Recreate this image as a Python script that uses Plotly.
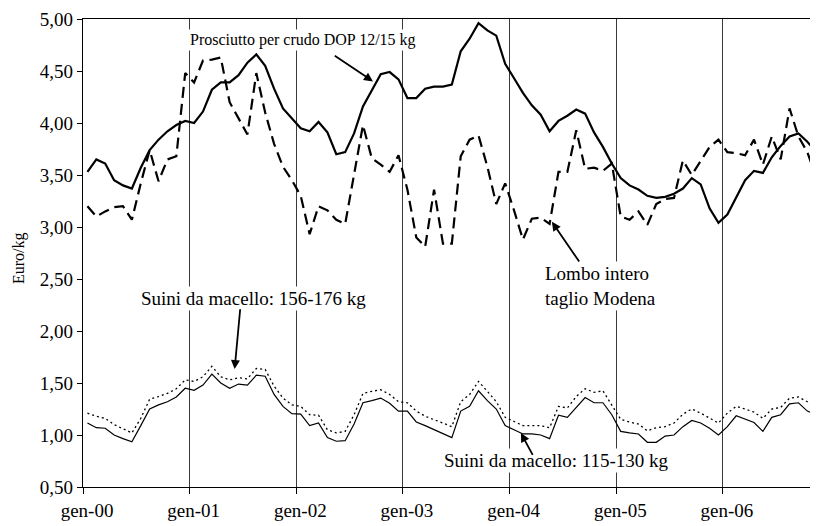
import numpy as np
import plotly.graph_objects as go

# month index 0 = gen-00 ... 82 = nov-06
prosciutto = [3.53, 3.65, 3.61, 3.45, 3.40, 3.37, 3.57, 3.74, 3.84, 3.92, 3.98, 4.02,
              4.00, 4.11, 4.32, 4.39, 4.39, 4.46, 4.58, 4.66, 4.55, 4.33, 4.14, 4.05,
              3.95, 3.92, 4.01, 3.91, 3.70, 3.72, 3.90, 4.16, 4.32, 4.47, 4.49, 4.42,
              4.24, 4.24, 4.33, 4.35, 4.35, 4.37, 4.69, 4.81, 4.96, 4.89, 4.84, 4.57,
              4.43, 4.29, 4.17, 4.08, 3.92, 4.02, 4.07, 4.13, 4.09, 3.91, 3.77, 3.61,
              3.47, 3.40, 3.36, 3.30, 3.28, 3.29, 3.32, 3.37, 3.47, 3.41, 3.18, 3.04,
              3.12, 3.28, 3.45, 3.54, 3.52, 3.67, 3.78, 3.87, 3.90, 3.82, 3.72]

lombo = [3.20, 3.10, 3.15, 3.19, 3.20, 3.07, 3.42, 3.74, 3.44, 3.65, 3.68, 4.48,
         4.39, 4.60, 4.61, 4.63, 4.20, 4.05, 3.89, 4.48, 4.10, 3.80, 3.58, 3.45,
         3.30, 2.93, 3.20, 3.16, 3.07, 3.03, 3.50, 3.98, 3.66, 3.60, 3.53, 3.69,
         3.36, 2.90, 2.81, 3.36, 2.84, 2.84, 3.68, 3.84, 3.88, 3.58, 3.22, 3.42,
         3.16, 2.88, 3.08, 3.09, 3.03, 3.53, 3.53, 3.93, 3.56, 3.57, 3.54, 3.61,
         3.10, 3.07, 3.15, 3.02, 3.22, 3.27, 3.28, 3.64, 3.50, 3.63, 3.77, 3.84,
         3.72, 3.71, 3.69, 3.84, 3.60, 3.87, 3.65, 4.14, 3.87, 3.72, 3.48]

suini_156_176 = [1.21, 1.18, 1.16, 1.10, 1.06, 1.02, 1.16, 1.345, 1.37, 1.40, 1.445, 1.53,
                 1.515, 1.56, 1.66, 1.56, 1.53, 1.55, 1.54, 1.64, 1.63, 1.47, 1.355, 1.29,
                 1.275, 1.195, 1.19, 1.05, 1.02, 1.035, 1.195, 1.40, 1.42, 1.435, 1.39, 1.32,
                 1.31, 1.23, 1.18, 1.15, 1.115, 1.08, 1.32, 1.39, 1.515, 1.42, 1.32, 1.17,
                 1.13, 1.09, 1.09, 1.09, 1.07, 1.275, 1.26, 1.37, 1.445, 1.41, 1.425, 1.29,
                 1.15, 1.125, 1.105, 1.04, 1.07, 1.08, 1.115, 1.20, 1.25, 1.21, 1.16, 1.115,
                 1.21, 1.275, 1.25, 1.22, 1.16, 1.25, 1.265, 1.355, 1.365, 1.32, 1.26]

suini_115_130 = [1.115, 1.07, 1.065, 1.00, 0.965, 0.935, 1.09, 1.25, 1.29, 1.32, 1.365, 1.45,
                 1.43, 1.48, 1.585, 1.50, 1.45, 1.49, 1.48, 1.575, 1.565, 1.39, 1.275, 1.205,
                 1.20, 1.09, 1.115, 0.975, 0.94, 0.945, 1.105, 1.31, 1.33, 1.355, 1.305, 1.23,
                 1.23, 1.125, 1.09, 1.05, 1.01, 0.975, 1.23, 1.275, 1.425, 1.33, 1.25, 1.09,
                 1.05, 1.01, 1.01, 1.00, 0.965, 1.19, 1.17, 1.265, 1.36, 1.31, 1.31, 1.195,
                 1.035, 1.02, 1.01, 0.93, 0.93, 0.99, 1.00, 1.08, 1.14, 1.115, 1.065, 1.00,
                 1.08, 1.185, 1.155, 1.12, 1.035, 1.17, 1.195, 1.30, 1.31, 1.23, 1.195]

year_labels = ["gen-00", "gen-01", "gen-02", "gen-03", "gen-04", "gen-05", "gen-06"]

x = np.arange(len(prosciutto))
FONT = "Liberation Serif, Times New Roman, serif"

fig = go.Figure()
fig.add_trace(go.Scatter(x=x, y=suini_156_176, mode="lines",
                         line=dict(color="black", width=1.3, dash="2px,3px"), name="Suini 156-176"))
fig.add_trace(go.Scatter(x=x, y=suini_115_130, mode="lines",
                         line=dict(color="black", width=1.2), name="Suini 115-130"))
fig.add_trace(go.Scatter(x=x, y=lombo, mode="lines",
                         line=dict(color="black", width=2.2, dash="11px,6px"), name="Lombo"))
fig.add_trace(go.Scatter(x=x, y=prosciutto, mode="lines",
                         line=dict(color="black", width=2.2), name="Prosciutto"))

tickpos = [12 * i - 0.5 for i in range(len(year_labels))]

fig.update_xaxes(range=[-0.5, 82.2], tickmode="array", tickvals=tickpos, ticktext=year_labels,
                 ticks="outside", ticklen=6, tickcolor="black", ticklabelshift=4,
                 showline=True, linecolor="black", linewidth=1.2, mirror=True,
                 showgrid=True, gridcolor="#3a3a3a", gridwidth=1, zeroline=False,
                 tickfont=dict(family=FONT, size=19, color="black"))
fig.update_yaxes(range=[0.5, 5.0], dtick=0.5, tick0=0.5, tickformat=".2f",
                 ticks="outside", ticklen=5, tickcolor="black",
                 showline=True, linecolor="black", linewidth=1.2,
                 showgrid=False, zeroline=False,
                 tickfont=dict(family=FONT, size=19, color="black"))

anns = []
# text labels
anns.append(dict(x=24.23, y=4.80, xref="x", yref="y", text="Prosciutto per crudo DOP 12/15 kg",
                 showarrow=False, font=dict(family=FONT, size=16, color="black"),
                 bgcolor="white", borderpad=1))
anns.append(dict(x=51.28, y=2.434, xref="x", yref="y", text="Lombo intero<br>taglio Modena",
                 showarrow=False, xanchor="left", align="left",
                 font=dict(family=FONT, size=19, color="black"), bgcolor="white", borderpad=1))
anns.append(dict(x=18.66, y=2.31, xref="x", yref="y", text="Suini da macello: 156-176 kg",
                 showarrow=False, font=dict(family=FONT, size=19, color="black"),
                 bgcolor="white", borderpad=1))
anns.append(dict(x=52.72, y=0.753, xref="x", yref="y", text="Suini da macello: 115-130 kg",
                 showarrow=False, font=dict(family=FONT, size=19, color="black"),
                 bgcolor="white", borderpad=1))
# arrows
for (tx, ty, ax, ay) in [(32.13, 4.40, -39.7, -26.7), (52.26, 3.05, 28.3, 41.3),
                         (16.56, 1.634, 5.7, -61.3), (48.77, 1.019, 12.6, 23.4)]:
    anns.append(dict(x=tx, y=ty, xref="x", yref="y", text="", showarrow=True,
                     ax=ax, ay=ay, arrowhead=2, arrowsize=1, arrowwidth=1.8,
                     arrowcolor="black", standoff=0))
anns.append(dict(x=-0.088, y=0.49, xref="paper", yref="paper", text="Euro/kg",
                 showarrow=False, textangle=-90, xanchor="center", yanchor="middle",
                 font=dict(family=FONT, size=16, color="black")))

# page body adds an 8px margin, so the figure is sized/offset to compensate
fig.update_layout(width=810, height=518, margin=dict(l=75, r=0, t=11, b=39),
                  plot_bgcolor="white", paper_bgcolor="white", showlegend=False,
                  separators=",.", annotations=anns,
                  font=dict(family=FONT, color="black"))

fig.write_html("out.html")
